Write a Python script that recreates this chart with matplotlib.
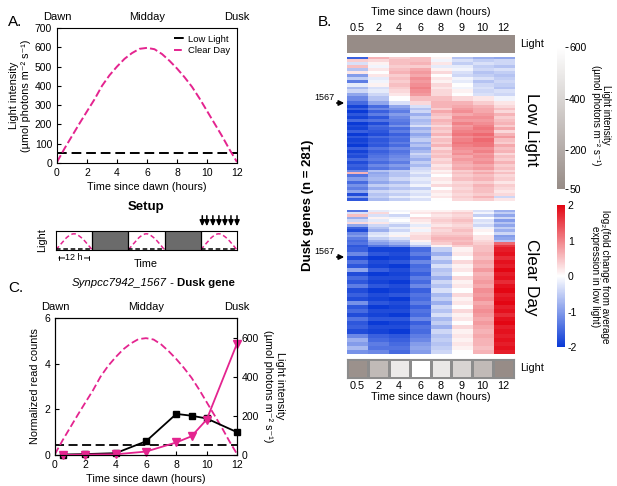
import numpy as np
import matplotlib
matplotlib.use('Agg')
import matplotlib.pyplot as plt
from matplotlib.colors import LinearSegmentedColormap, Normalize
from matplotlib.cm import ScalarMappable

plt.rcParams['font.family'] = ['Liberation Sans', 'DejaVu Sans']
plt.rcParams['font.size'] = 7.5
plt.rcParams['axes.unicode_minus'] = False

W, H = 617, 486

# light regimes (umol photons m-2 s-1)
curve_hours = [0, 0.5, 1, 1.5, 2, 2.5, 3, 3.5, 4, 4.5, 5, 5.5, 6,
               6.5, 7, 7.5, 8, 8.5, 9, 9.5, 10, 10.5, 11, 11.5, 12]
clear_day_light = [5, 75, 140, 205, 268, 330, 400, 455, 500, 540, 570, 592, 597,
                   590, 565, 530, 490, 445, 395, 335, 270, 205, 140, 70, 5]
low_light_level = 50

# sampling
sample_hours = [0.5, 2, 4, 6, 8, 9, 10, 12]
sample_labels = ['0.5', '2', '4', '6', '8', '9', '10', '12']
clear_day_at_samples = [75, 268, 500, 597, 490, 395, 270, 20]
low_light_at_samples = [50, 50, 50, 50, 50, 50, 50, 50]
setup_arrow_hours = [0.5, 2, 4, 6, 8, 10, 12]
setup_segments = ['day', 'night', 'day', 'night', 'day']

# Synpcc7942_1567 normalized read counts
gene_low_light = [0.02, 0.04, 0.08, 0.6, 1.8, 1.72, 1.6, 1.0]
gene_clear_day = [0.0, 0.02, 0.03, 0.15, 0.55, 0.82, 1.55, 4.88]

# heatmap bands: log2 fold change per time point, and number of genes in band
low_light_counts = [3, 7, 5, 7, 5, 7, 6, 5, 6, 7, 5, 7, 7,
                    8, 8,
                    6, 5, 6, 5, 6, 5, 6, 5, 6, 5, 6, 5, 6, 5, 6, 5, 6, 5, 6, 5, 6, 5, 6,
                    5, 4, 6, 6, 6, 6, 6, 6, 6, 5, 5]
low_light_rows = [
    [-1.6, 0.6, 0.4, 0.5, 0.1, -0.6, -0.8, -0.9],
    [0.4, 0.3, 0.5, 0.5, -0.1, -0.3, -0.5, -0.4],
    [-0.3, 0.1, 0.5, 0.6, 0.2, -0.5, -0.3, -0.4],
    [0.5, -0.1, 0.4, 0.4, -0.2, -0.2, -0.5, -0.6],
    [-0.6, 0.2, 0.5, 0.7, 0.1, -0.1, -0.4, -0.3],
    [0.2, 0.0, 0.6, 0.8, 0.3, -0.3, -0.6, -0.5],
    [-1.0, 0.2, 0.4, 0.7, 0.0, -0.4, -0.5, -0.6],
    [-0.5, -0.2, 0.5, 0.9, 0.2, -0.1, -0.3, -0.5],
    [-1.3, -0.1, 0.4, 0.8, 0.1, -0.2, -0.6, -0.4],
    [-0.2, 0.1, 0.5, 0.9, 0.3, 0.0, -0.4, -0.5],
    [-0.7, -0.3, 0.4, 1.0, 0.2, -0.1, -0.3, -0.6],
    [-0.4, -0.2, 0.3, 0.9, 0.3, 0.1, -0.4, -0.3],
    [-0.9, -0.4, 0.2, 0.8, 0.3, 0.0, -0.3, -0.4],
    [-1.2, -0.6, 0.0, 0.5, 0.5, 0.3, 0.2, -0.1],
    [-1.5, -0.9, -0.3, 0.3, 0.6, 0.6, 0.4, 0.2],
    [-1.9, -1.5, -0.9, -0.3, 0.6, 0.7, 0.6, 0.3],
    [-1.6, -1.2, -1.1, -0.6, 0.4, 0.8, 0.7, 0.5],
    [-2.0, -1.6, -1.3, -0.4, 0.7, 0.9, 0.7, 0.3],
    [-1.7, -1.3, -1.0, -0.8, 0.5, 0.7, 0.8, 0.6],
    [-1.9, -1.7, -1.2, -0.5, 0.4, 0.9, 0.9, 0.4],
    [-1.5, -1.4, -1.3, -0.7, 0.6, 0.8, 0.8, 0.5],
    [-2.0, -1.8, -1.4, -0.6, 0.5, 1.0, 0.9, 0.6],
    [-1.8, -1.5, -1.1, -0.3, 0.3, 0.8, 1.0, 0.4],
    [-1.9, -1.6, -1.5, -0.8, 0.5, 0.9, 1.1, 0.7],
    [-1.6, -1.7, -1.3, -0.6, 0.4, 1.0, 1.0, 0.3],
    [-2.0, -1.8, -1.6, -0.9, 0.6, 1.1, 1.2, 0.6],
    [-1.7, -1.5, -1.4, -0.7, 0.3, 0.9, 1.0, 0.8],
    [-1.9, -1.7, -1.5, -0.5, 0.5, 1.0, 1.2, 0.5],
    [-1.8, -1.6, -1.3, -0.8, 0.4, 1.1, 1.1, 0.4],
    [-2.0, -1.7, -1.5, -0.6, 0.6, 1.0, 1.1, 0.7],
    [-1.6, -1.4, -1.2, -0.9, 0.3, 0.9, 0.9, 0.5],
    [-1.9, -1.6, -1.4, -0.7, 0.5, 0.8, 1.0, 0.6],
    [-1.7, -1.5, -1.3, -0.4, 0.4, 0.9, 0.8, 0.3],
    [-1.8, -1.4, -1.2, -0.6, 0.5, 0.7, 0.9, 0.5],
    [-1.5, -1.3, -1.1, -0.8, 0.3, 0.8, 0.8, 0.4],
    [-1.8, -1.5, -1.3, -0.5, 0.4, 0.7, 0.9, 0.6],
    [-1.6, -1.2, -1.0, -0.7, 0.2, 0.6, 0.7, 0.4],
    [-1.7, -1.4, -1.2, -0.4, 0.3, 0.7, 0.8, 0.5],
    [-1.2, -0.6, -0.5, -0.3, 0.1, 0.4, 0.5, 0.3],
    [0.6, -0.9, -0.6, -0.2, 0.2, 0.5, 0.7, 0.5],
    [-1.4, -0.8, -0.6, -0.4, 0.0, 0.4, 0.5, 0.3],
    [-1.0, -0.7, -0.4, -0.2, 0.2, 0.5, 0.6, 0.4],
    [-1.5, -0.9, -0.7, -0.3, 0.1, 0.3, 0.4, 0.2],
    [-1.1, -0.5, -0.4, -0.1, 0.3, 0.4, 0.6, 0.4],
    [-1.3, -0.8, -0.6, -0.5, 0.0, 0.3, 0.5, 0.3],
    [-0.9, -0.4, -0.3, -0.2, 0.2, 0.4, 0.5, 0.2],
    [-1.8, -0.6, -0.5, -0.3, 0.1, 0.3, 0.4, 0.3],
    [-1.0, -0.5, -0.2, -0.1, 0.2, 0.4, 0.6, -0.4],
    [-1.7, -0.7, -0.5, -0.3, 0.0, 0.3, 0.4, 0.2],
]

clear_day_counts = [3, 5, 5, 5, 5, 5, 5, 5, 5, 5, 5,
                    5, 5, 5, 5] + [8] * 26
clear_day_rows = [
    [-1.4, -0.2, -0.1, 0.1, 0.1, 0.2, -0.3, -0.8],
    [-0.3, 0.3, 0.0, 0.2, 0.3, 0.4, -0.1, -0.5],
    [0.5, -0.3, -0.4, 0.0, 0.2, 0.3, -0.5, -0.9],
    [-0.8, 0.1, -0.1, 0.3, 0.3, 0.4, 0.0, -0.4],
    [-0.4, -0.2, 0.0, 0.2, 0.4, 0.5, -0.3, -1.0],
    [0.3, 0.2, -0.2, 0.1, 0.3, 0.4, -0.2, -0.6],
    [-0.9, -0.4, -0.5, -0.2, 0.2, 0.3, -0.4, -0.9],
    [-1.6, -0.6, -0.2, 0.1, 0.4, 0.4, -0.1, -0.5],
    [-1.8, -0.8, -0.4, -0.1, 0.3, 0.5, 0.1, -0.8],
    [-1.2, -0.3, -0.1, 0.2, 0.4, 0.4, 0.0, -0.4],
    [-1.0, -0.2, 0.1, 0.3, 0.5, 0.5, 0.2, -1.0],
    [-1.3, -0.5, -0.3, 0.3, 0.6, 0.6, 0.2, -0.9],
    [-1.5, -0.8, -0.6, 0.1, 0.5, 0.5, 0.3, -0.6],
    [-1.4, -1.0, -0.8, -0.2, 0.4, 0.6, 0.4, 1.2],
    [-1.7, -1.4, -1.2, -0.6, 0.1, 0.4, 0.5, 1.6],
    [-1.6, -1.9, -1.9, -1.5, -0.5, 0.1, 0.5, 1.8],
    [-1.2, -1.7, -1.8, -1.3, -0.8, 0.2, 0.6, 1.9],
    [-1.8, -2.0, -1.9, -1.6, -0.4, 0.0, 0.5, 1.7],
    [-1.4, -1.8, -1.7, -1.2, -0.7, 0.3, 0.7, 1.9],
    [-1.7, -1.9, -2.0, -1.5, -0.3, 0.1, 0.6, 1.8],
    [-0.9, -1.6, -1.8, -1.4, -0.6, 0.2, 0.8, 2.0],
    [-1.8, -2.0, -1.9, -1.6, -0.5, 0.0, 0.6, 1.8],
    [-1.5, -1.8, -1.8, -1.3, -0.8, 0.3, 0.7, 1.9],
    [-1.7, -1.9, -2.0, -1.5, -0.4, 0.1, 0.8, 1.7],
    [-1.3, -1.7, -1.8, -1.2, -0.6, 0.2, 0.7, 1.9],
    [-1.8, -2.0, -1.9, -1.6, -0.3, 0.0, 0.9, 2.0],
    [-1.6, -1.8, -1.7, -1.4, -0.7, 0.3, 0.8, 1.8],
    [-1.8, -1.9, -2.0, -1.5, -0.5, 0.1, 0.9, 1.9],
    [-1.1, -1.7, -1.8, -1.3, -0.8, 0.2, 0.7, 2.0],
    [-1.7, -2.0, -1.9, -1.6, -0.4, 0.0, 0.8, 1.8],
    [-1.5, -1.8, -1.8, -1.4, -0.6, 0.3, 0.9, 1.9],
    [-1.8, -1.9, -2.0, -1.5, -0.3, 0.1, 0.8, 1.7],
    [-1.4, -1.7, -1.7, -1.2, -0.7, 0.2, 0.7, 1.9],
    [-1.7, -2.0, -1.9, -1.6, -0.5, 0.0, 0.8, 2.0],
    [-1.6, -1.8, -1.8, -1.4, -0.8, 0.3, 0.7, 1.8],
    [-1.8, -1.9, -2.0, -1.5, -0.4, 0.1, 0.6, 1.9],
    [-1.2, -1.6, -1.7, -1.3, -0.6, 0.2, 0.7, 1.8],
    [-0.8, -1.5, -1.6, -1.2, -0.5, 0.1, 0.6, 1.9],
    [-1.0, -1.3, -1.5, -1.0, -0.6, 0.2, 0.6, 1.8],
    [-0.7, -1.4, -1.4, -0.9, -0.5, 0.1, 0.5, 1.9],
    [-1.1, -1.2, -1.5, -1.0, -0.4, 0.0, 0.6, 1.8],
]

MAGENTA = '#e4248f'
fold_cmap = LinearSegmentedColormap.from_list('fold', ['#0a3ad6', '#ffffff', '#e30613'])
light_cmap = LinearSegmentedColormap.from_list('light', ['#978c87', '#ffffff'])
light_norm = Normalize(50, 600)

fig = plt.figure(figsize=(W / 100, H / 100), dpi=100)


def px_axes(x0, y0, x1, y1):
    return fig.add_axes([x0 / W, 1 - y1 / H, (x1 - x0) / W, (y1 - y0) / H])


def px_text(x, y, s, **kw):
    return fig.text(x / W, 1 - y / H, s, **kw)


def day_labels(ax):
    for x, s in zip([0, 6, 12], ['Dawn', 'Midday', 'Dusk']):
        ax.annotate(s, xy=(x, 1), xycoords=('data', 'axes fraction'), xytext=(0, 11),
                    textcoords='offset pixels', ha='center', va='center', fontsize=8)


# ---------------- A ----------------
ax_a = px_axes(57, 28, 237, 163)
ax_a.plot([0, 12], [low_light_level, low_light_level], color='black', lw=1.4,
          dashes=(5, 2.5), label='Low Light')
ax_a.plot(curve_hours, clear_day_light, color=MAGENTA, lw=1.4, dashes=(4, 1.6), label='Clear Day')
ax_a.set_xlim(0, 12)
ax_a.set_ylim(0, 700)
ax_a.set_xticks(range(0, 13, 2))
ax_a.set_yticks(range(0, 701, 100))
ax_a.tick_params(direction='in', length=3, labelsize=7.5)
ax_a.set_xlabel('Time since dawn (hours)', fontsize=7.8, labelpad=3)
ax_a.set_ylabel('Light intensity\n(µmol photons m⁻² s⁻¹)', fontsize=7.8, labelpad=3)
ax_a.legend(loc='upper right', frameon=False, fontsize=6.8, handlelength=1.0,
            handletextpad=0.5, labelspacing=0.3, borderaxespad=0.3)
day_labels(ax_a)
px_text(8, 22, 'A.', fontsize=11, va='center')

# ---------------- Setup ----------------
ax_s = px_axes(56, 231, 237, 250)
for i, seg in enumerate(setup_segments):
    x0 = 12 * i
    if seg == 'night':
        ax_s.axvspan(x0, x0 + 12, color='#6b6b6b', lw=0)
    else:
        ax_s.plot(np.array(curve_hours) + x0, clear_day_light, color=MAGENTA, lw=1.1, dashes=(3, 1.8))
        ax_s.plot([x0, x0 + 12], [low_light_level, low_light_level], color='black', lw=1.1, dashes=(3, 1.8))
    if i > 0:
        ax_s.axvline(x0, color='black', lw=0.9)
for h in setup_arrow_hours:
    ax_s.annotate('', xy=(48 + h, 1.1), xycoords=('data', 'axes fraction'),
                  xytext=(48 + h, 1.95), textcoords=('data', 'axes fraction'),
                  arrowprops=dict(arrowstyle='-|>,head_width=0.2,head_length=0.45', color='black', lw=1.1))
ax_s.set_xlim(0, 60)
ax_s.set_ylim(0, 700)
ax_s.set_xticks([])
ax_s.set_yticks([])
ax_s.annotate('', xy=(0, -0.42), xycoords=('data', 'axes fraction'),
              xytext=(12, -0.42), textcoords=('data', 'axes fraction'),
              arrowprops=dict(arrowstyle='|-|,widthA=0.2,widthB=0.2', color='black', lw=0.7))
ax_s.text(6, -0.42, '12 h', transform=ax_s.get_xaxis_transform(), ha='center', va='center',
          fontsize=6.5, bbox=dict(facecolor='white', edgecolor='none', pad=0.5))
px_text(146, 207, 'Setup', fontsize=9.5, fontweight='bold', ha='center', va='center')
px_text(42, 240, 'Light', fontsize=7.8, rotation=90, ha='center', va='center')
px_text(146, 264, 'Time', fontsize=7.8, ha='center', va='center')

# ---------------- C ----------------
ax_c = px_axes(55, 318, 237, 455)
ax_c2 = ax_c.twinx()
ax_c2.plot([0, 12], [low_light_level, low_light_level], color='black', lw=1.3, dashes=(5, 2.5))
ax_c2.plot(curve_hours, clear_day_light, color=MAGENTA, lw=1.3, dashes=(4, 1.8))
ax_c2.set_ylim(0, 700)
ax_c2.set_yticks([0, 200, 400, 600])
ax_c2.tick_params(direction='in', length=3, labelsize=7.5)
ax_c.set_zorder(ax_c2.get_zorder() + 1)
ax_c.patch.set_visible(False)
ax_c.plot(sample_hours, gene_low_light, color='black', lw=1.3, marker='s', ms=4.5, clip_on=False)
ax_c.plot(sample_hours, gene_clear_day, color=MAGENTA, lw=1.3, marker='v', ms=6, clip_on=False)
ax_c.set_xlim(0, 12)
ax_c.set_ylim(0, 6)
ax_c.set_xticks(range(0, 13, 2))
ax_c.set_yticks([0, 2, 4, 6])
ax_c.tick_params(direction='in', length=3, labelsize=7.5)
ax_c.set_xlabel('Time since dawn (hours)', fontsize=7.8, labelpad=3)
ax_c.set_ylabel('Normalized read counts', fontsize=7.8, labelpad=3)
day_labels(ax_c)
px_text(274, 386, 'Light intensity\n(µmol photons m⁻² s⁻¹)', fontsize=7.8, rotation=270,
        ha='center', va='center', multialignment='center')
px_text(8, 288, 'C.', fontsize=11, va='center')
t1 = px_text(72, 283, 'Synpcc7942_1567', fontsize=8.2, style='italic', va='center')
t2 = plt.annotate(' - ', xy=(1, 0.5), xycoords=t1, va='center', ha='left', fontsize=8.2,
                  annotation_clip=False)
plt.annotate('Dusk gene', xy=(1, 0.5), xycoords=t2, va='center', ha='left', fontsize=8.2,
             fontweight='bold', annotation_clip=False)

# ---------------- B ----------------
X0, X1 = 347, 514
ax_top = px_axes(X0, 35, X1, 53)
ax_top.imshow([low_light_at_samples], cmap=light_cmap, norm=light_norm, aspect='auto')
ax_top.set_yticks([])
ax_top.set_xticks(range(len(sample_labels)))
ax_top.set_xticklabels(sample_labels)
ax_top.xaxis.tick_top()
ax_top.tick_params(length=0, pad=1.5, labelsize=7.8)
for sp in ax_top.spines.values():
    sp.set_visible(False)


def draw_heat(y0, y1, rows, counts):
    mat = np.repeat(np.array(rows), counts, axis=0)
    ax = px_axes(X0, y0, X1, y1)
    ax.imshow(mat, cmap=fold_cmap, vmin=-2, vmax=2, aspect='auto', interpolation='nearest')
    ax.axis('off')
    return ax


draw_heat(57, 201, low_light_rows, low_light_counts)
draw_heat(210, 354, clear_day_rows, clear_day_counts)

ax_bot = px_axes(X0, 359, X1, 378)
ax_bot.pcolormesh(np.arange(len(sample_hours) + 1), [0, 1], [clear_day_at_samples],
                  cmap=light_cmap, norm=light_norm, edgecolors='#8c8c8c', linewidth=0.8)
ax_bot.set_xlim(0, len(sample_hours))
ax_bot.set_ylim(0, 1)
ax_bot.set_yticks([])
ax_bot.set_xticks(np.arange(len(sample_hours)) + 0.5)
ax_bot.set_xticklabels(sample_labels)
ax_bot.tick_params(length=0, pad=2, labelsize=7.8)
for sp in ax_bot.spines.values():
    sp.set_color('#8c8c8c')
    sp.set_linewidth(0.8)
ax_bot.set_xlabel('Time since dawn (hours)', fontsize=7.8, labelpad=1)

px_text(431, 12, 'Time since dawn (hours)', fontsize=7.8, ha='center', va='center')
px_text(318, 22, 'B.', fontsize=11, va='center')
px_text(520, 44, 'Light', fontsize=7.8, va='center')
px_text(520, 368, 'Light', fontsize=7.8, va='center')
px_text(532, 130, 'Low Light', fontsize=12.3, rotation=270, ha='center', va='center')
px_text(532, 277, 'Clear Day', fontsize=12.3, rotation=270, ha='center', va='center')
px_text(308, 205, 'Dusk genes (n = 281)', fontsize=9.5, fontweight='bold', rotation=90,
        ha='center', va='center')
for y in [103, 257]:
    fig.add_artist(plt.Annotation('', xy=(X0 / W, 1 - y / H), xycoords='figure fraction',
                                  xytext=(334 / W, 1 - y / H), textcoords='figure fraction',
                                  arrowprops=dict(arrowstyle='-|>,head_width=0.2,head_length=0.4',
                                                  color='black', lw=1.2)))
    px_text(324, y - 6, '1567', fontsize=6.5, ha='center', va='center')

cax1 = px_axes(557, 47, 565, 189)
cb1 = fig.colorbar(ScalarMappable(norm=light_norm, cmap=light_cmap), cax=cax1, ticks=[50, 200, 400, 600])
cb1.outline.set_visible(False)
cb1.ax.tick_params(length=2, width=0.6, labelsize=7.5, pad=1)
px_text(601, 115, 'Light intensity\n(µmol photons m⁻² s⁻¹)', fontsize=7, rotation=270,
        ha='center', va='center', multialignment='center', linespacing=1.1)

cax2 = px_axes(557, 205, 565, 347)
cb2 = fig.colorbar(ScalarMappable(norm=Normalize(-2, 2), cmap=fold_cmap), cax=cax2, ticks=[-2, -1, 0, 1, 2])
cb2.outline.set_visible(False)
cb2.ax.tick_params(length=0, labelsize=7.5, pad=2)
px_text(600, 277, 'log₂(fold change from average\nexpression in low light)', fontsize=7.2,
        rotation=270, ha='center', va='center', multialignment='center', linespacing=1.1)

fig.savefig('out.png', dpi=100)
